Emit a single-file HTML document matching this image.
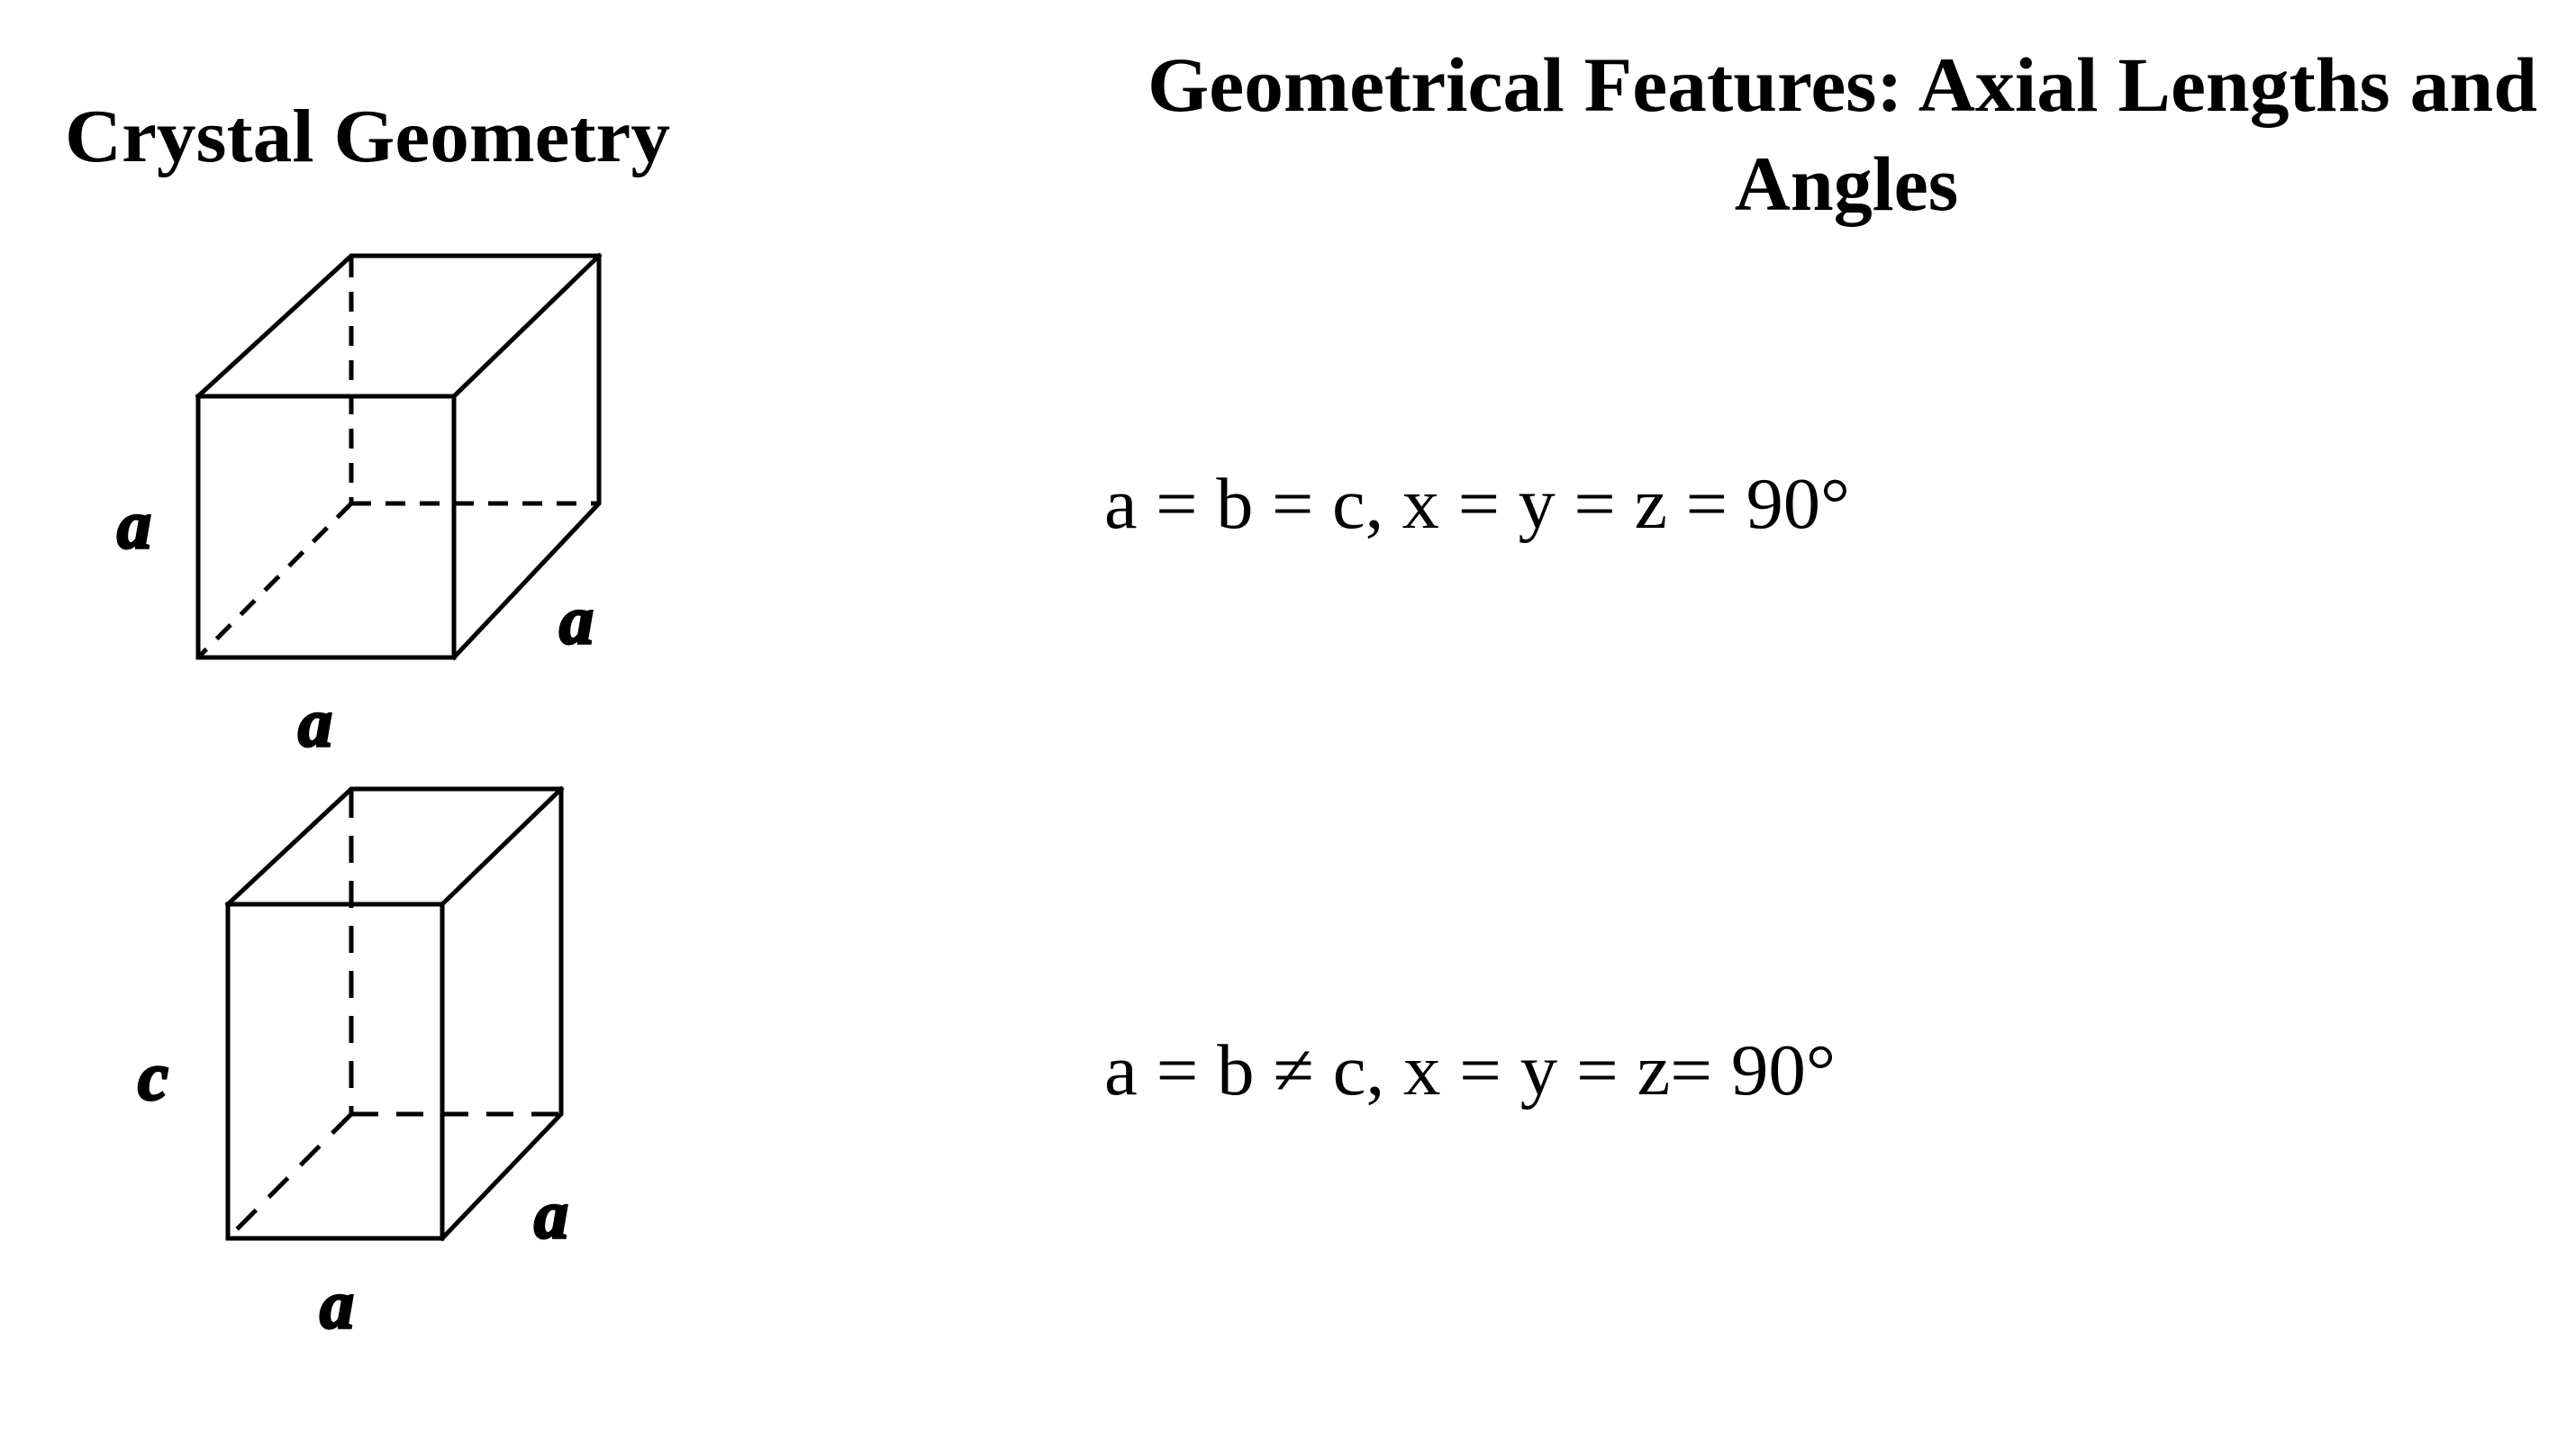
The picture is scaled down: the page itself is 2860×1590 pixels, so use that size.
<!DOCTYPE html>
<html><head><meta charset="utf-8"><style>html,body{margin:0;padding:0;background:#fff}svg{display:block}</style></head>
<body>
<svg width="2860" height="1590" viewBox="0 0 2860 1590" xmlns="http://www.w3.org/2000/svg">
<rect width="2860" height="1590" fill="#fff"/>
<g font-family="'Liberation Serif', serif" fill="#000">
<text x="72" y="179" font-size="84" font-weight="bold" textLength="672" lengthAdjust="spacingAndGlyphs">Crystal Geometry</text>
<text x="1274" y="123" font-size="86" font-weight="bold" textLength="1543" lengthAdjust="spacingAndGlyphs">Geometrical Features: Axial Lengths and</text>
<text x="2050" y="233" font-size="86" font-weight="bold" text-anchor="middle">Angles</text>
<text x="1226" y="586" font-size="80" textLength="828" lengthAdjust="spacingAndGlyphs">a = b = c, x = y = z = 90°</text>
<text x="1226" y="1215" font-size="80" textLength="812" lengthAdjust="spacingAndGlyphs">a = b ≠ c, x = y = z= 90°</text>
</g>
<g stroke="#000" stroke-width="5" fill="none" stroke-linecap="square">
<!-- cube 1 -->
<rect x="220" y="440" width="284" height="290"/>
<polyline points="220,440 390,284 665,284 665,559 504,730"/>
<line x1="504" y1="440" x2="665" y2="284"/>
<g stroke-dasharray="22,16" stroke-linecap="butt">
<line x1="390" y1="286" x2="390" y2="559"/>
<line x1="390" y1="559" x2="665" y2="559"/>
<line x1="390" y1="559" x2="220" y2="730"/>
</g>
<!-- cube 2 -->
<rect x="253" y="1004" width="238" height="371"/>
<polyline points="253,1004 390,876 623,876 623,1237 491,1375"/>
<line x1="491" y1="1004" x2="623" y2="876"/>
<g stroke-dasharray="30,20" stroke-linecap="butt">
<line x1="390" y1="878" x2="390" y2="1237"/>
<line x1="390" y1="1237" x2="623" y2="1237"/>
<line x1="390" y1="1237" x2="253" y2="1375"/>
</g>
</g>
<g font-family="'Liberation Serif', serif" font-style="italic" font-weight="bold" font-size="76" fill="#000" stroke="#000" stroke-width="3" text-anchor="middle">
<text x="149" y="608">a</text>
<text x="640" y="714">a</text>
<text x="350" y="828">a</text>
<text x="170" y="1221">c</text>
<text x="612" y="1374">a</text>
<text x="374" y="1474">a</text>
</g>
</svg>
</body></html>
